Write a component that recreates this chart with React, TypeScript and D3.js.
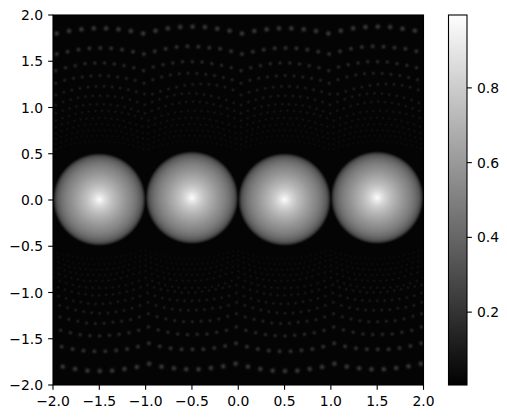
import React from "react";
import * as d3 from "d3";

const WIDTH = 507;
const HEIGHT = 418;

const axisTicks = [-2, -1.5, -1, -0.5, 0, 0.5, 1, 1.5, 2];
const colorTicks = [0.2, 0.4, 0.6, 0.8];
const colorDomain = [0.005, 0.995];
const backgroundValue = 0.016;

// four bright discs
const discX = [-1.5, -0.5, 0.5, 1.5];
const discY = [0.005, 0.025, 0.005, 0.025];
const profileRadius = [0, 0.02, 0.05, 0.09, 0.14, 0.2, 0.28, 0.36, 0.41, 0.45, 0.47, 0.49, 0.51];
const profileValue = [0.99, 0.95, 0.89, 0.82, 0.75, 0.68, 0.59, 0.5, 0.43, 0.35, 0.27, 0.12, 0.02];

// rows of faint spots, upper half: y read along each row (x step = period / count)
const upperRow1 = [1.80, 1.827, 1.845, 1.856, 1.856, 1.845, 1.827, 1.80, 1.83, 1.856, 1.87, 1.874, 1.87, 1.852, 1.83];
const upperRow2 = [1.578, 1.603, 1.625, 1.64, 1.643, 1.64, 1.625, 1.603, 1.578, 1.608, 1.635, 1.654, 1.662, 1.657, 1.646, 1.635, 1.608];
const upperRow3 = [1.398, 1.43, 1.452, 1.474, 1.481, 1.481, 1.47, 1.452, 1.43, 1.398, 1.438, 1.463, 1.481, 1.495, 1.495, 1.492, 1.474, 1.456, 1.43];
const upperRow4 = [1.262, 1.295, 1.315, 1.33, 1.34, 1.345, 1.34, 1.33, 1.315, 1.295, 1.262, 1.30, 1.33, 1.352, 1.365, 1.37, 1.368, 1.358, 1.345, 1.325, 1.30];
const upperRow5 = [1.135, 1.165, 1.188, 1.207, 1.22, 1.228, 1.229, 1.222, 1.21, 1.192, 1.17, 1.145, 1.145, 1.175, 1.2, 1.22, 1.238, 1.25, 1.254, 1.25, 1.24, 1.22, 1.19];
const upperRow6 = [1.027, 1.06, 1.085, 1.105, 1.118, 1.125, 1.127, 1.125, 1.118, 1.105, 1.085, 1.06, 1.03, 1.06, 1.09, 1.115, 1.135, 1.148, 1.153, 1.15, 1.14, 1.125, 1.105, 1.08, 1.05];
const upperRow7 = [0.937, 0.965, 0.99, 1.01, 1.023, 1.032, 1.035, 1.035, 1.03, 1.02, 1.005, 0.985, 0.96, 0.937, 0.965, 0.99, 1.015, 1.035, 1.05, 1.06, 1.063, 1.06, 1.05, 1.035, 1.015, 0.99, 0.965];
const upperRow8 = [0.86, 0.885, 0.91, 0.93, 0.945, 0.955, 0.962, 0.965, 0.962, 0.955, 0.945, 0.93, 0.91, 0.885];
const upperRow9 = [0.79, 0.815, 0.835, 0.855, 0.87, 0.88, 0.885, 0.888, 0.885, 0.88, 0.87, 0.855, 0.835, 0.815, 0.795];
const upperRow10 = [0.72, 0.745, 0.765, 0.785, 0.80, 0.81, 0.815, 0.82, 0.82, 0.815, 0.81, 0.80, 0.785, 0.765, 0.745, 0.725];
const upperRow11 = [0.66, 0.68, 0.70, 0.72, 0.735, 0.745, 0.75, 0.755, 0.755, 0.755, 0.75, 0.745, 0.735, 0.72, 0.70, 0.68, 0.665];
const upperRow12 = [0.60, 0.625, 0.645, 0.66, 0.675, 0.685, 0.69, 0.695, 0.695, 0.695, 0.695, 0.69, 0.685, 0.675, 0.66, 0.645, 0.625, 0.605];
const upperRow13 = [0.55, 0.57, 0.585, 0.60, 0.61, 0.62, 0.625, 0.63, 0.635, 0.635, 0.635, 0.63, 0.625, 0.62, 0.61, 0.60, 0.585, 0.57, 0.555];

const lowerRow1 = [-1.802, -1.827, -1.845, -1.849, -1.845, -1.827, -1.805, -1.77, -1.802, -1.819, -1.83, -1.83, -1.816, -1.798, -1.77];
const lowerRow2 = [-1.586, -1.611, -1.629, -1.636, -1.636, -1.625, -1.611, -1.586, -1.549, -1.582, -1.603, -1.614, -1.614, -1.614, -1.6, -1.578, -1.549];
const lowerRow3 = [-1.409, -1.435, -1.456, -1.467, -1.47, -1.463, -1.452, -1.435, -1.409, -1.373, -1.405, -1.43, -1.449, -1.456, -1.452, -1.449, -1.43, -1.409, -1.373];
const lowerRow4 = [-1.265, -1.29, -1.311, -1.33, -1.337, -1.333, -1.322, -1.311, -1.294, -1.265, -1.229, -1.262, -1.286, -1.305, -1.316, -1.316, -1.311, -1.305, -1.286, -1.257, -1.229];
const lowerRow5 = [-1.14, -1.165, -1.19, -1.207, -1.218, -1.225, -1.222, -1.21, -1.195, -1.17, -1.14, -1.106, -1.14, -1.163, -1.18, -1.19, -1.192, -1.19, -1.185, -1.17, -1.16, -1.14, -1.106];
const lowerRow6 = [-1.04, -1.065, -1.09, -1.105, -1.118, -1.124, -1.122, -1.115, -1.10, -1.085, -1.065, -1.04, -1.005, -1.035, -1.06, -1.075, -1.085, -1.09, -1.09, -1.087, -1.08, -1.07, -1.055, -1.035, -1.005];
const lowerRow7 = [-0.945, -0.97, -0.99, -1.01, -1.02, -1.03, -1.03, -1.025, -1.02, -1.005, -0.99, -0.97, -0.945, -0.919, -0.945, -0.965, -0.98, -0.99, -1.0, -1.0, -0.998, -0.99, -0.98, -0.965, -0.95, -0.935, -0.919];
const lowerRow8 = [-0.84, -0.875, -0.90, -0.92, -0.935, -0.945, -0.95, -0.95, -0.95, -0.945, -0.935, -0.92, -0.90, -0.875];
const lowerRow9 = [-0.77, -0.80, -0.825, -0.845, -0.86, -0.87, -0.875, -0.875, -0.875, -0.87, -0.86, -0.845, -0.825, -0.80, -0.785];
const lowerRow10 = [-0.71, -0.735, -0.76, -0.78, -0.795, -0.805, -0.81, -0.81, -0.81, -0.81, -0.805, -0.795, -0.78, -0.76, -0.735, -0.72];
const lowerRow11 = [-0.65, -0.675, -0.70, -0.72, -0.735, -0.745, -0.75, -0.755, -0.755, -0.755, -0.75, -0.745, -0.735, -0.72, -0.70, -0.675, -0.66];
const lowerRow12 = [-0.60, -0.62, -0.64, -0.66, -0.675, -0.685, -0.69, -0.695, -0.695, -0.695, -0.695, -0.69, -0.685, -0.675, -0.66, -0.64, -0.62, -0.605];
const lowerRow13 = [-0.55, -0.57, -0.585, -0.60, -0.61, -0.62, -0.625, -0.63, -0.635, -0.635, -0.635, -0.63, -0.625, -0.62, -0.61, -0.60, -0.585, -0.57, -0.555];

const upperRows = [upperRow1, upperRow2, upperRow3, upperRow4, upperRow5, upperRow6, upperRow7, upperRow8, upperRow9, upperRow10, upperRow11, upperRow12, upperRow13];
const lowerRows = [lowerRow1, lowerRow2, lowerRow3, lowerRow4, lowerRow5, lowerRow6, lowerRow7, lowerRow8, lowerRow9, lowerRow10, lowerRow11, lowerRow12, lowerRow13];
const upperStart = [-1.96, -1.96, -1.97, -1.97, -1.97, -1.97, -1.97, -1.97, -1.97, -1.97, -1.97, -1.97, -1.97];
const lowerStart = [-1.895, -1.906, -1.917, -1.924, -1.93, -1.94, -1.945, -2, -2, -2, -2, -2, -2];
const rowPeriod = [2, 2, 2, 2, 2, 2, 2, 1, 1, 1, 1, 1, 1];
const rowValue = [0.2, 0.165, 0.135, 0.115, 0.1, 0.088, 0.078, 0.068, 0.06, 0.052, 0.046, 0.04, 0.036];

const spotFalloffAt = [0, 0.25, 0.5, 0.75, 1];
const spotFalloff = [1, 0.8, 0.42, 0.13, 0];

const x = d3.scaleLinear().domain([-2, 2]).range([53, 423.5]);
const y = d3.scaleLinear().domain([-2, 2]).range([385, 15]);
const colorY = d3.scaleLinear().domain(colorDomain).range([385, 15]);
const gray = d3.scaleLinear<string>().domain([0, 1]).range(["#000000", "#ffffff"]);
const spotRadius = d3.scaleLinear().domain([0.036, 0.2]).range([1.7, 4.4]);
const fmt = d3.format(".1f");

const FONT = "'DejaVu Sans', sans-serif";
const TICK = 4.86;
const STROKE = 1.1;

function spots(rows: number[][], starts: number[]) {
  const out: { cx: number; cy: number; k: number }[] = [];
  rows.forEach((row, k) => {
    const period = rowPeriod[k];
    const step = period / row.length;
    for (let p = 0; p < 4 / period + 1; p++) {
      row.forEach((v, i) => {
        out.push({ cx: x(starts[k] + p * period + i * step), cy: y(v), k });
      });
    }
  });
  return out;
}

export default function App() {
  const allSpots = [...spots(upperRows, upperStart), ...spots(lowerRows, lowerStart)];
  const discR = d3.max(profileRadius) as number;
  return (
    <svg
      width={WIDTH}
      height={HEIGHT}
      viewBox={`0 0 ${WIDTH} ${HEIGHT}`}
      style={{ position: "fixed", left: 0, top: 0, display: "block", background: "#fff" }}
    >
      <defs>
        <clipPath id="plot">
          <rect x={x(-2)} y={y(2)} width={x(2) - x(-2)} height={y(-2) - y(2)} />
        </clipPath>
        <radialGradient id="disc">
          {profileRadius.map((r, i) => (
            <stop key={i} offset={r / discR} stopColor={gray(profileValue[i])} stopOpacity={i === profileRadius.length - 1 ? 0 : 1} />
          ))}
        </radialGradient>
        {rowValue.map((v, k) => (
          <radialGradient key={k} id={`spot-${k}`}>
            {spotFalloffAt.map((o, i) => (
              <stop key={i} offset={o} stopColor="#fff" stopOpacity={v * spotFalloff[i]} />
            ))}
          </radialGradient>
        ))}
        <linearGradient id="cbar" x1="0" y1="1" x2="0" y2="0">
          <stop offset="0" stopColor={gray(colorDomain[0])} />
          <stop offset="1" stopColor={gray(colorDomain[1])} />
        </linearGradient>
      </defs>

      <rect x={x(-2)} y={y(2)} width={x(2) - x(-2)} height={y(-2) - y(2)} fill={gray(backgroundValue)} />
      <g clipPath="url(#plot)">
        {allSpots.map((s, i) => (
          <circle key={i} cx={s.cx} cy={s.cy} r={spotRadius(rowValue[s.k])} fill={`url(#spot-${s.k})`} />
        ))}
        {discX.map((cx, i) => (
          <circle key={i} cx={x(cx)} cy={y(discY[i])} r={x(discR) - x(0)} fill="url(#disc)" />
        ))}
      </g>

      <rect x={x(-2)} y={y(2)} width={x(2) - x(-2)} height={y(-2) - y(2)} fill="none" stroke="#000" strokeWidth={STROKE} />
      {axisTicks.map((t) => (
        <g key={`x${t}`} fontFamily={FONT} fontSize={13.9}>
          <line x1={x(t)} x2={x(t)} y1={y(-2)} y2={y(-2) + TICK} stroke="#000" strokeWidth={STROKE} />
          <text x={x(t)} y={405.5} textAnchor="middle" fill="#000">{fmt(t)}</text>
          <line x1={x(-2)} x2={x(-2) - TICK} y1={y(t)} y2={y(t)} stroke="#000" strokeWidth={STROKE} />
          <text x={43} y={y(t) + 5} textAnchor="end" fill="#000">{fmt(t)}</text>
        </g>
      ))}

      <rect x={448.5} y={15} width={18.5} height={370} fill="url(#cbar)" stroke="#000" strokeWidth={STROKE} />
      {colorTicks.map((t) => (
        <g key={`c${t}`} fontFamily={FONT} fontSize={13.9}>
          <line x1={467} x2={467 + TICK} y1={colorY(t)} y2={colorY(t)} stroke="#000" strokeWidth={STROKE} />
          <text x={477} y={colorY(t) + 5} fill="#000">{fmt(t)}</text>
        </g>
      ))}
    </svg>
  );
}
